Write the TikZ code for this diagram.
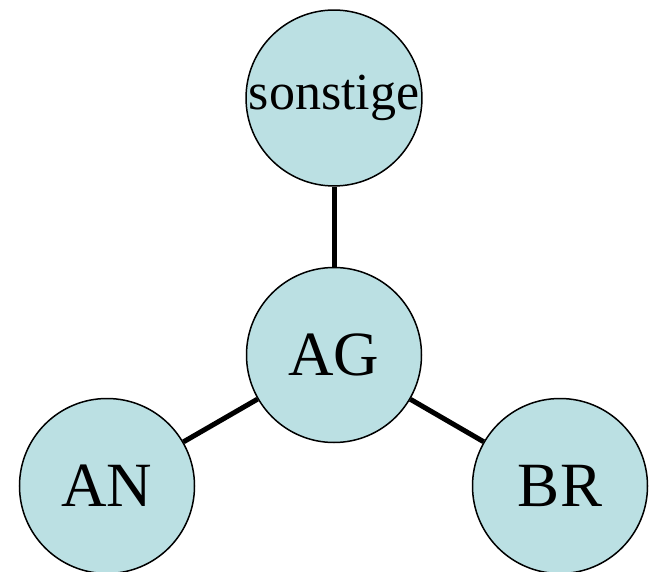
\documentclass[tikz,border=0pt]{standalone}
\usepackage{fontspec}
\setmainfont{Liberation Serif}
\usepackage{xcolor}
\usetikzlibrary{positioning}
\definecolor{partei}{HTML}{BBE0E3}

\begin{document}
\begin{tikzpicture}[x=1pt,y=-1pt,on grid,
		party/.style={circle,draw,line width=1.5pt,fill=partei,minimum size=175pt,inner sep=0pt},
		link/.style={line width=5pt}]
		\useasboundingbox (0,0) rectangle (651,572);
		\node[party,font=\fontsize{63}{63}\selectfont]	(ag)	at (334,355)						{AG};
		\node[party,font=\fontsize{52}{52}\selectfont]	(so)	[above=257pt of ag]					{sonstige};
		\node[party,font=\fontsize{63}{63}\selectfont]	(an)	[below left=131pt and 227pt of ag]	{AN};
		\node[party,font=\fontsize{63}{63}\selectfont]	(br)	[below right=131pt and 226pt of ag]	{BR};
		
		\path[link]	(ag)	edge	(so)
							edge	(an)
							edge	(br);
	\end{tikzpicture}
\end{document}
